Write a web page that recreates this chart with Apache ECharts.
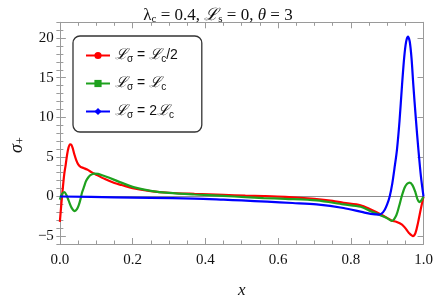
<!DOCTYPE html>
<html>
<head>
<meta charset="utf-8">
<script src="https://cdn.jsdelivr.net/npm/echarts@6/dist/echarts.min.js"></script>
<style>html,body{margin:0;padding:0;background:#fff}#c{width:436px;height:304px}</style>
</head>
<body>
<div id="c"></div>
<script>
// ---- data ----
const seriesNames = ['half', 'equal', 'double'];
const redX = [0, 0.004, 0.008, 0.012, 0.016, 0.020, 0.024, 0.028, 0.032, 0.036, 0.040, 0.045, 0.050, 0.057, 0.065, 0.075, 0.088, 0.100, 0.124, 0.150, 0.170, 0.200, 0.25, 0.30, 0.37, 0.45, 0.51, 0.56, 0.62, 0.70, 0.75, 0.78, 0.827, 0.855, 0.88, 0.90, 0.913, 0.925, 0.941, 0.95, 0.96, 0.971, 0.978, 0.985, 0.992, 1.0];
const redY = [-3.2, -1.0, 1.0, 2.8, 4.0, 5.3, 6.2, 6.6, 6.5, 6.0, 5.3, 4.6, 4.1, 3.75, 3.6, 3.4, 3.05, 2.75, 2.2, 1.7, 1.45, 1.05, 0.68, 0.47, 0.33, 0.2, 0.1, 0.05, -0.05, -0.3, -0.55, -0.8, -1.1, -1.65, -2.2, -2.7, -3.05, -3.2, -3.55, -4.0, -4.6, -5.0, -4.6, -3.3, -1.7, 0];
const greenX = [0, 0.006, 0.012, 0.018, 0.024, 0.032, 0.041, 0.047, 0.052, 0.057, 0.061, 0.067, 0.072, 0.078, 0.084, 0.095, 0.105, 0.124, 0.150, 0.169, 0.205, 0.25, 0.30, 0.37, 0.45, 0.51, 0.56, 0.62, 0.706, 0.78, 0.827, 0.855, 0.88, 0.90, 0.913, 0.925, 0.933, 0.940, 0.948, 0.955, 0.962, 0.970, 0.978, 0.983, 0.988, 0.994, 1.0];
const greenY = [-0.4, 0.3, 0.55, 0.2, -0.5, -1.4, -1.85, -1.6, -1.1, -0.3, 0.5, 1.3, 1.95, 2.4, 2.7, 2.9, 2.85, 2.55, 2.1, 1.75, 1.15, 0.72, 0.45, 0.25, 0.08, -0.08, -0.2, -0.3, -0.5, -1.0, -1.3, -1.85, -2.35, -2.75, -3.07, -2.4, -1.2, 0, 1.1, 1.6, 1.76, 1.4, 0.5, -0.3, -0.7, -0.5, 0];
const blueX = [0, 0.15, 0.25, 0.37, 0.45, 0.50, 0.57, 0.64, 0.706, 0.78, 0.83, 0.855, 0.877, 0.885, 0.893, 0.900, 0.907, 0.914, 0.920, 0.927, 0.934, 0.941, 0.947, 0.952, 0.957, 0.962, 0.967, 0.972, 0.979, 0.986, 0.993, 1.0];
const blueY = [0, -0.1, -0.17, -0.26, -0.4, -0.5, -0.65, -0.82, -1.0, -1.45, -1.95, -2.2, -2.3, -2.15, -1.7, -1.0, 0, 1.6, 3.5, 5.9, 9.5, 14.1, 17.6, 19.5, 20.2, 19.6, 17.5, 14.1, 9.8, 5.9, 2.5, 0];
const xTicks = [0, 0.2, 0.4, 0.6, 0.8, 1.0];
const yTicks = [-5, 0, 5, 10, 15, 20];

const zip = (xs, ys) => xs.map((x, i) => [x, ys[i]]);
const frame = '#9a9a9a';
const serif = '"Liberation Serif", "DejaVu Serif", serif';
const sans = '"Liberation Sans", "DejaVu Sans", sans-serif';

const legendText = {
  half: '{l|ℒ}{s|σ}{n| = }{l|ℒ}{s|c}{n|/2}',
  equal: '{l|ℒ}{s|σ}{n| = }{l|ℒ}{s|c}',
  double: '{l|ℒ}{s|σ}{n| = 2}{l|ℒ}{s|c}'
};

const chart = echarts.init(document.getElementById('c'), null, {renderer: 'canvas'});
const lineSeries = (name, data, color, symbol, symbolSize) => ({
  name, type: 'line', data, smooth: 0.3,
  showSymbol: false, symbol, symbolSize,
  xAxisIndex: 0, yAxisIndex: 0,
  lineStyle: {color, width: 2.2}, itemStyle: {color},
  z: 3, animation: false
});

chart.setOption({
  animation: false,
  title: {
    text: '{n|λ}{s|c}{n| = 0.4, }{l|ℒ}{s|s}{n| = 0, }{i|θ}{n| = 3}',
    left: 'center', top: 2,
    textStyle: {
      fontWeight: 'normal',
      rich: {
        n: {fontFamily: serif, fontSize: 17, fontWeight: 'normal', color: '#111'},
        i: {fontFamily: serif, fontSize: 17, fontStyle: 'italic', fontWeight: 'normal', color: '#111'},
        l: {fontFamily: serif, fontSize: 17, fontStyle: 'italic', fontWeight: 'normal', color: '#111'},
        s: {fontFamily: serif, fontSize: 11, fontWeight: 'normal', color: '#111', padding: [7, 0, 0, 0]}
      }
    }
  },
  grid: {left: 55, right: 12.5, top: 22.3, bottom: 54},
  legend: {
    data: seriesNames,
    orient: 'vertical', left: 73, top: 36,
    padding: [12, 24, 12, 12],
    itemGap: 12, itemWidth: 24, itemHeight: 9,
    borderColor: '#333', borderWidth: 1.3, borderRadius: 7,
    backgroundColor: '#fff',
    formatter: n => legendText[n],
    textStyle: {
      rich: {
        n: {fontFamily: sans, fontSize: 14, color: '#111'},
        l: {fontFamily: serif, fontSize: 15, fontStyle: 'italic', color: '#111'},
        s: {fontFamily: sans, fontSize: 10, color: '#111', padding: [7, 0, 0, 0]}
      }
    }
  },
  xAxis: [
    {
      type: 'value', min: 0, max: 1, interval: 0.2, position: 'bottom',
      name: 'x', nameLocation: 'middle', nameGap: 38,
      nameTextStyle: {fontFamily: serif, fontSize: 17, fontStyle: 'italic', color: '#111'},
      axisLine: {show: true, onZero: false, lineStyle: {color: frame, width: 1}},
      axisTick: {show: true, inside: true, length: 6, lineStyle: {color: frame}},
      minorTick: {show: true, splitNumber: 4, length: 3.5, lineStyle: {color: frame}},
      axisLabel: {formatter: v => v.toFixed(1), fontFamily: serif, fontSize: 15, color: '#111', margin: 9},
      splitLine: {show: false}
    },
    {
      type: 'value', min: 0, max: 1, interval: 0.2, position: 'top',
      axisLine: {show: true, onZero: false, lineStyle: {color: frame, width: 1}},
      axisTick: {show: true, inside: true, length: 6, lineStyle: {color: frame}},
      minorTick: {show: true, splitNumber: 4, length: 3.5, lineStyle: {color: frame}},
      axisLabel: {show: false}, splitLine: {show: false}
    }
  ],
  yAxis: [
    {
      type: 'value', min: -6, max: 22, position: 'left',
      name: '{i|σ}{s|+}', nameLocation: 'middle', nameGap: 30, nameRotate: 90,
      nameTextStyle: {padding: [0, 24, 0, 0], rich: {
        i: {fontFamily: serif, fontSize: 18, fontStyle: 'italic', color: '#111'},
        s: {fontFamily: serif, fontSize: 12, color: '#111', padding: [8, 0, 0, 0]}
      }},
      axisLine: {show: true, onZero: false, lineStyle: {color: frame, width: 1}},
      axisTick: {show: true, inside: true, length: 6, customValues: yTicks, lineStyle: {color: frame}},
      axisLabel: {customValues: yTicks, fontFamily: serif, fontSize: 15, color: '#111', margin: 6,
        formatter: v => (v < 0 ? '\u2212' + Math.abs(v) : String(v))},
      splitLine: {show: false}
    },
    {
      type: 'value', min: -6, max: 22, interval: 1, position: 'left',
      axisLine: {show: false},
      axisTick: {show: true, inside: true, length: 3.5, lineStyle: {color: frame}},
      axisLabel: {show: false}, splitLine: {show: false}
    },
    {
      type: 'value', min: -6, max: 22, position: 'right',
      axisLine: {show: true, onZero: false, lineStyle: {color: frame, width: 1}},
      axisTick: {show: true, inside: true, length: 6, customValues: yTicks, lineStyle: {color: frame}},
      axisLabel: {show: false}, splitLine: {show: false}
    },
    {
      type: 'value', min: -6, max: 22, interval: 1, position: 'right',
      axisLine: {show: false},
      axisTick: {show: true, inside: true, length: 3.5, lineStyle: {color: frame}},
      axisLabel: {show: false}, splitLine: {show: false}
    }
  ],
  series: [
    {
      name: 'zero', type: 'line', data: [[0, 0], [1, 0]], showSymbol: false,
      lineStyle: {color: '#8c8c8c', width: 1}, silent: true, z: 1, animation: false
    },
    lineSeries('half', zip(redX, redY), '#ff0000', 'circle', 9),
    lineSeries('equal', zip(greenX, greenY), '#1ea11e', 'rect', 8),
    lineSeries('double', zip(blueX, blueY), '#0000ff', 'diamond', 8)
  ]
});
</script>
</body>
</html>
